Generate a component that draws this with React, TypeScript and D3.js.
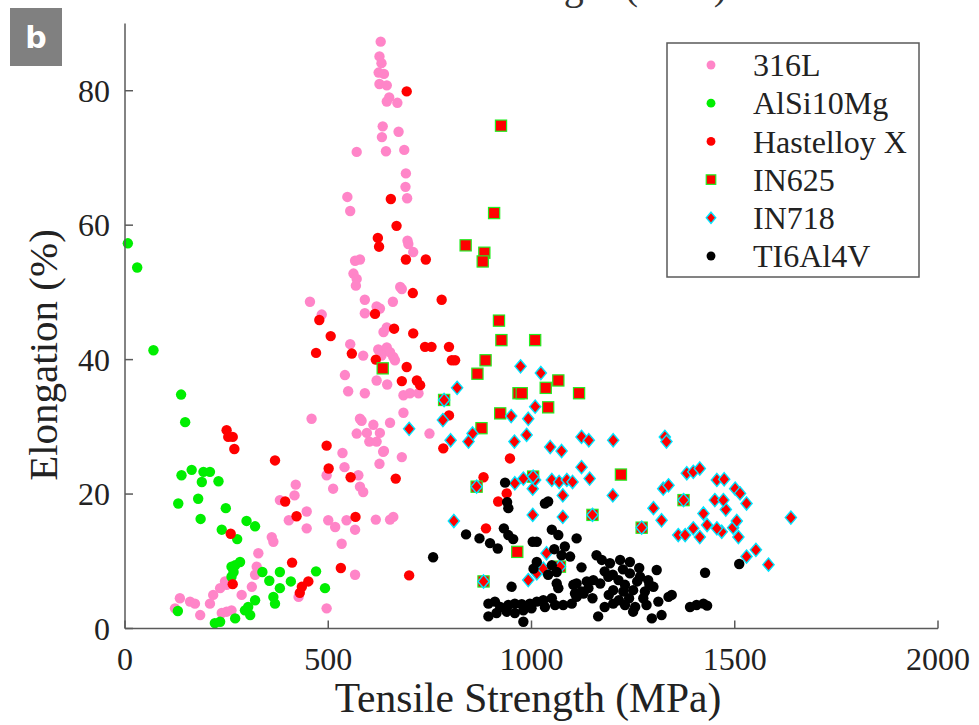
import React from "react";
import * as d3 from "d3";

const xTicks = [0, 500, 1000, 1500, 2000];
const yTicks = [0, 20, 40, 60, 80];
const seriesNames = ["316L", "AlSi10Mg", "Hastelloy X", "IN625", "IN718", "TI6Al4V"];

const s316L: [number, number][] = [
  [629,87.3],[626,85.1],[631,84.1],[624,82.7],[637,82.5],[626,81],[644,80.8],[650,79],[644,78.4],[670,78.2],[634,74.7],[673,73.9],[632,73.1],[570,70.9],[642,71],[687,71.2],[691,67.7],[690,65.7],[547,64.2],[694,64],[554,62.1],[695,57.7],[697,57.2],[709,56],[578,54.9],[566,54.7],[562,52.8],[570,52],[568,51],[677,50.8],[681,50.5],[455,48.6],[590,48.9],[619,47.9],[627,47.6],[590,46.9],[659,48.6],[484,46.7],[644,44.8],[636,44.1],[554,42.3],[623,41.5],[644,41.8],[652,41.1],[631,40.6],[660,40.4],[664,39.9],[586,40.6],[541,37.7],[619,36.9],[645,36.3],[549,35.3],[590,35],[685,34.7],[701,35],[722,35],[685,32.1],[459,31.2],[578,31.2],[582,30.9],[570,29],[595,29.1],[611,30.3],[627,29.1],[601,27.8],[619,27.8],[652,30.6],[535,26.1],[637,26.4],[540,24],[512,20.8],[496,22.8],[635,26.3],[626,24.5],[574,22.8],[578,21.1],[586,20.3],[420,21.4],[417,19.8],[381,19.1],[447,17.4],[403,16.1],[447,14.9],[500,16.1],[517,15.1],[545,16.1],[566,14.7],[533,12.6],[617,16.2],[652,16.2],[660,16.6],[566,8],[361,13.6],[365,12.9],[328,11.2],[324,9.2],[320,8],[250,6.5],[234,6],[246,7],[217,5],[209,3.7],[185,2],[135,4.5],[160,4],[172,3.7],[123,3],[250,2.5],[262,2.7],[238,2.3],[287,5],[312,6.2],[496,3],[427,4.7],[749,29],[681,25.5]
];

const sAlSi10Mg: [number, number][] = [
  [7,57.3],[30,53.7],[70,41.4],[138,34.8],[148,30.7],[139,22.8],[164,23.6],[193,23.3],[209,23.3],[189,21.8],[230,21.9],[131,18.6],[180,19.3],[248,17.9],[186,16.3],[238,14.7],[299,16],[320,15.2],[276,13.3],[262,9.2],[267,8.4],[283,9.9],[271,9.4],[262,7.7],[338,8.4],[355,7.1],[381,8.4],[408,7],[381,6],[365,4.7],[369,3.7],[320,4.2],[303,3.2],[295,2.7],[308,2],[271,1.5],[221,0.8],[234,1],[130,2.6],[470,8.5],[492,6]
];

const sHastelloy: [number, number][] = [
  [693,79.9],[654,63.9],[668,59.9],[622,58.1],[625,56.8],[691,54.9],[740,54.9],[708,49.9],[779,48.9],[615,46.8],[478,45.9],[662,44.6],[709,43.9],[506,43.5],[738,41.9],[754,41.9],[797,41.9],[470,41],[558,40.9],[617,40],[804,39.9],[812,39.9],[693,38.9],[681,36.8],[718,36.9],[726,36.2],[797,31.7],[783,26.8],[947,25.3],[250,29.5],[254,28.5],[265,28.5],[269,26.7],[496,27.2],[369,25],[501,23.8],[555,22.5],[666,22.3],[394,18.9],[422,16.7],[567,16.6],[260,14.1],[411,9.8],[531,9],[265,6.6],[451,7],[435,6.2],[430,5.3],[882,22.5],[939,20.1],[918,18.9],[888,14.9],[699,7.9]
];

const sIN625: [number, number][] = [
  [925,74.8],[908,61.8],[838,57],[884,55.9],[880,54.6],[920,45.8],[926,42.9],[1009,42.9],[887,39.9],[867,37.9],[634,38.7],[1066,36.9],[1035,35.8],[968,35],[976,35],[1117,35],[1041,32.9],[923,32],[877,29.8],[785,34],[1220,22.9],[965,11.4],[865,21.1],[882,7],[1150,16.9],[1271,15],[1374,19.1],[1070,9.2],[1004,22.6]
];

const sIN718: [number, number][] = [
  [973,39],[1023,38],[817,35.8],[785,34],[1009,33],[950,31.6],[992,31.2],[782,31],[699,29.7],[801,28],[855,29],[845,27.8],[958,27.8],[988,28.8],[1046,27],[1074,26.4],[1123,28.5],[1141,28],[1201,28],[1328,28.5],[1332,27.8],[1123,24],[1143,22.3],[959,21.6],[980,22.3],[1003,20.8],[1009,22.1],[1050,22.1],[1068,21.8],[1087,22.1],[1101,21.8],[1077,19.8],[1200,19.8],[1003,16.9],[1077,16.6],[809,16],[1324,20.8],[1337,21.3],[1300,17.9],[1320,16.1],[1382,23.1],[1398,23.3],[1361,13.9],[1378,13.9],[1398,14.9],[1037,11.2],[992,7.2],[1013,8.2],[1029,8.9],[1414,23.8],[1456,22.1],[1474,22.2],[1501,20.8],[1513,20.1],[1451,19.1],[1478,17.7],[1472,19.1],[1529,18.6],[1423,17.1],[1432,15.4],[1468,14.4],[1456,14.9],[1496,15],[1505,16],[1509,13.6],[1414,13.6],[1638,16.5],[1529,10.7],[1552,11.7],[1583,9.5],[865,21.1],[882,7],[1150,16.9],[1271,15],[1374,19.1],[1070,9.2],[1004,22.6]
];

const sTI6Al4V: [number, number][] = [
  [935,21.7],[940,18.8],[943,17.9],[1033,18.6],[1041,18.9],[839,14],[872,13.4],[758,10.6],[898,12.7],[917,11.9],[932,14.9],[943,13.9],[955,13.3],[1003,12.9],[1013,12.9],[1050,14.7],[1066,13.9],[1082,12.2],[1095,10.7],[1111,13.4],[1056,11.8],[1074,10.9],[1013,9.9],[1005,8.9],[1050,9.4],[1062,8.4],[1123,9.1],[1041,8],[1062,6.7],[1066,6],[951,6.2],[1160,10.9],[1173,10.2],[1193,9.7],[1218,10.2],[1242,9.9],[1152,7.2],[1169,6.7],[1189,7.7],[1214,7.2],[1242,8.2],[1267,7.7],[1287,7.2],[1308,8.7],[1136,7],[1111,6.7],[1107,5.2],[1128,5.2],[1201,5.7],[1226,5.5],[1250,5.7],[1279,5.5],[1300,6.2],[1201,3.7],[1230,3.5],[1255,3.2],[1283,3.5],[1312,4],[1337,4.7],[1345,5],[1164,1.8],[1296,1.5],[1320,2],[1390,3.2],[1406,3.5],[894,3.7],[910,4],[923,3.2],[943,3.5],[959,3.7],[976,3.6],[996,3.7],[1013,4],[1029,4.2],[1050,4.5],[894,1.8],[914,2.3],[939,2.5],[959,2.3],[980,2.7],[1000,3],[1033,3.2],[1058,3.5],[980,1],[1078,3.5],[1099,3.7],[1111,4.7],[1123,5.5],[1103,6.5],[1427,8.3],[1511,9.6],[1423,3.7],[1432,3.4],[1180,8.5],[1200,8],[1230,6.5],[1260,7],[1275,4.5],[1240,4.5],[1215,4.2],[1190,5],[1180,3.2],[1265,9],[1290,6.5],[1225,8.8],[1250,2.5],[1140,6],[1150,4.5]
];

const W = 979, H = 725;
const x = d3.scaleLinear().domain([0, 2000]).range([125, 938]);
const y = d3.scaleLinear().domain([0, 90]).range([628.5, 23.5]);
const serif = "'Liberation Serif', 'Times New Roman', serif";
const axisColor = "#5a5a5a";

const diamond = (cx: number, cy: number, w: number, h: number) =>
  `M${cx},${cy - h}L${cx + w},${cy}L${cx},${cy + h}L${cx - w},${cy}Z`;

function Marker({ kind, cx, cy, legend }: { kind: number; cx: number; cy: number; legend?: boolean }) {
  const k = legend ? 0.85 : 1;
  if (kind === 0) return <circle cx={cx} cy={cy} r={5.2 * k} fill="#ff85c8" />;
  if (kind === 1) return <circle cx={cx} cy={cy} r={5.2 * k} fill="#00ee00" />;
  if (kind === 2) return <circle cx={cx} cy={cy} r={5.2 * k} fill="#ff0000" />;
  if (kind === 3) {
    const s = 5.6 * k;
    return <rect x={cx - s} y={cy - s} width={2 * s} height={2 * s} fill="#ff0000" stroke="#22ee22" strokeWidth={1.2} />;
  }
  if (kind === 4) return <path d={diamond(cx, cy, 5.6 * k, 6.6 * k)} fill="#ff0000" stroke="#00e5ff" strokeWidth={1.4} />;
  return <circle cx={cx} cy={cy} r={5.2 * k} fill="#000000" />;
}

const allSeries = [s316L, sAlSi10Mg, sHastelloy, sIN625, sIN718, sTI6Al4V];

export default function App() {
  return (
    <svg width={W} height={H} style={{ position: "absolute", left: 0, top: 0, background: "#fff" }}>
      <rect x={0} y={0} width={W} height={H} fill="#fff" />
      {/* clipped title remnant from the panel above (only descenders visible) */}
      <text x={727} y={-1} textAnchor="end" fontFamily={serif} fontSize={40} fill="#333">Yield Strength (MPa)</text>

      {/* panel label */}
      <rect x={10} y={8} width={52} height={58} fill="#808080" />
      <text x={36} y={37} textAnchor="middle" dominantBaseline="central" fontFamily="'DejaVu Sans', sans-serif" fontWeight="bold" fontSize={30} fill="#fff">b</text>

      {/* markers */}
      {allSeries.map((data, si) => (
        <g key={si}>
          {data.map((d, i) => (
            <Marker key={i} kind={si} cx={x(d[0])} cy={y(d[1])} />
          ))}
        </g>
      ))}

      {/* axes */}
      <line x1={x(0)} x2={x(0)} y1={y(90)} y2={y(0)} stroke={axisColor} strokeWidth={1.5} />
      <line x1={x(0)} x2={x(2000)} y1={y(0)} y2={y(0)} stroke={axisColor} strokeWidth={1.5} />
      {yTicks.map((t) => (
        <g key={"y" + t}>
          <line x1={x(0)} x2={x(0) + 8} y1={y(t)} y2={y(t)} stroke={axisColor} strokeWidth={1.5} />
          <text x={110} y={y(t)} dy="0.35em" textAnchor="end" fontFamily={serif} fontSize={32} fill="#222">{t}</text>
        </g>
      ))}
      {xTicks.map((t) => (
        <g key={"x" + t}>
          <line x1={x(t)} x2={x(t)} y1={y(0)} y2={y(0) - 8} stroke={axisColor} strokeWidth={1.5} />
          <text x={x(t)} y={670} textAnchor="middle" fontFamily={serif} fontSize={32} fill="#222">{t}</text>
        </g>
      ))}
      <text x={528} y={712} textAnchor="middle" fontFamily={serif} fontSize={41.5} fill="#222">Tensile Strength (MPa)</text>
      <text transform="translate(57,355) rotate(-90)" textAnchor="middle" fontFamily={serif} fontSize={41} fill="#222">Elongation (%)</text>

      {/* legend */}
      <rect x={667} y={43} width={252} height={234} fill="#fff" stroke={axisColor} strokeWidth={1.5} />
      {seriesNames.map((n, i) => {
        const cy = 65 + i * 38.2;
        return (
          <g key={n}>
            <Marker kind={i} cx={711} cy={cy} legend />
            <text x={753} y={cy} dy="0.35em" fontFamily={serif} fontSize={32} fill="#222">{n}</text>
          </g>
        );
      })}
    </svg>
  );
}
